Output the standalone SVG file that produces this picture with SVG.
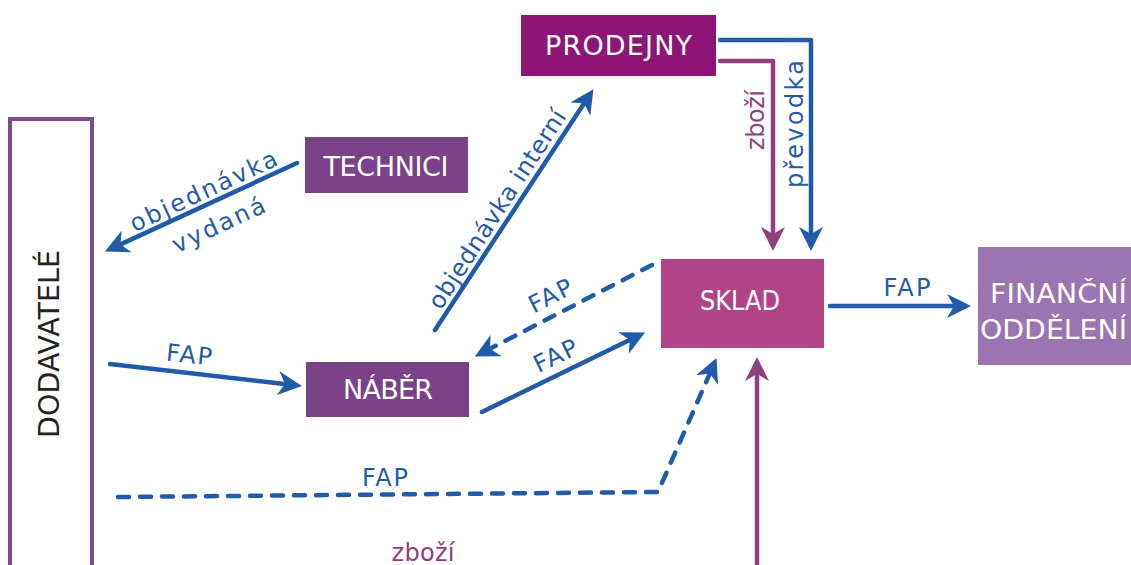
<svg xmlns="http://www.w3.org/2000/svg" width="1131" height="565" viewBox="0 0 1131 565">
  <defs>
    <style>
      text { font-family: "DejaVu Sans", "Noto Sans", sans-serif; }
      .box-label { fill: #ffffff; font-size: 27px; text-anchor: middle; }
      .lbl-blue { fill: #1F5BA8; font-size: 24px; text-anchor: middle; }
      .lbl-mag { fill: #8E3F7C; font-size: 24px; text-anchor: middle; }
      .flow-blue { fill: none; stroke: #1F5BA8; stroke-width: 4.5; stroke-linecap: round; stroke-linejoin: round; }
      .flow-mag { fill: none; stroke: #8E3F7C; stroke-width: 4.5; stroke-linecap: round; stroke-linejoin: round; }
      .dashed { stroke-dasharray: 11 11; }
    </style>
    <marker id="head-blue" viewBox="0 0 24 24" refX="17" refY="12" markerWidth="24" markerHeight="24" markerUnits="userSpaceOnUse" orient="auto">
      <path d="M0,0 L24,12 L0,24 L7,12 z" fill="#1F5BA8"/>
    </marker>
    <marker id="head-mag" viewBox="0 0 24 24" refX="17" refY="12" markerWidth="24" markerHeight="24" markerUnits="userSpaceOnUse" orient="auto">
      <path d="M0,0 L24,12 L0,24 L7,12 z" fill="#8E3F7C"/>
    </marker>
  </defs>

  <rect width="1131" height="565" fill="#ffffff"/>

  <!-- nodes -->
  <g id="dodavatele">
    <rect x="10" y="119" width="82" height="470" fill="none" stroke="#7B4A90" stroke-width="4"/>
    <text transform="translate(59,344) rotate(-90)" font-size="28" fill="#222222" text-anchor="middle" textLength="188" lengthAdjust="spacingAndGlyphs">DODAVATELÉ</text>
  </g>

  <g id="prodejny">
    <rect x="521" y="15" width="195" height="61" fill="#8E1578"/>
    <text class="box-label" x="618.5" y="55" textLength="147" lengthAdjust="spacing">PRODEJNY</text>
  </g>

  <g id="technici">
    <rect x="305" y="137" width="163" height="56" fill="#7A4289"/>
    <text class="box-label" x="386" y="176" textLength="125" lengthAdjust="spacing">TECHNICI</text>
  </g>

  <g id="naber">
    <rect x="306" y="362" width="163" height="55" fill="#7A4289"/>
    <text class="box-label" x="388" y="399" textLength="90" lengthAdjust="spacing">NÁBĚR</text>
  </g>

  <g id="sklad">
    <rect x="661" y="259" width="163" height="89" fill="#B04487"/>
    <text class="box-label" x="740" y="310" textLength="80" lengthAdjust="spacingAndGlyphs">SKLAD</text>
  </g>

  <g id="financni-oddeleni">
    <rect x="978" y="247" width="160" height="118" fill="#9B74B2"/>
    <text class="box-label" x="990" y="303" font-size="28" textLength="137" lengthAdjust="spacingAndGlyphs" style="text-anchor:start">FINANČNÍ</text>
    <text class="box-label" x="980" y="339" font-size="28" textLength="147" lengthAdjust="spacingAndGlyphs" style="text-anchor:start">ODDĚLENÍ</text>
  </g>

  <!-- connectors -->
  <g id="connectors">
    <!-- PRODEJNY -> SKLAD -->
    <path class="flow-blue" d="M720,40 H811 V244" marker-end="url(#head-blue)"/>
    <path class="flow-mag" d="M720,61 H773 V244" marker-end="url(#head-mag)"/>
    <text class="lbl-mag" transform="translate(764,120) rotate(-90)" textLength="60" lengthAdjust="spacing">zboží</text>
    <text class="lbl-blue" transform="translate(803,124) rotate(-90)" textLength="128" lengthAdjust="spacing">převodka</text>

    <!-- TECHNICI -> DODAVATELÉ -->
    <path class="flow-blue" d="M297,163 L111.3,248.6" marker-end="url(#head-blue)"/>
    <text class="lbl-blue" transform="translate(204,192) rotate(-25)" y="7" textLength="160" lengthAdjust="spacing">objednávka</text>
    <text class="lbl-blue" transform="translate(219,226) rotate(-25)" y="7" textLength="100" lengthAdjust="spacing">vydaná</text>

    <!-- NÁBĚR -> PRODEJNY -->
    <path class="flow-blue" d="M435,330 L589.6,95" marker-end="url(#head-blue)"/>
    <text class="lbl-blue" transform="translate(498,210) rotate(-57)" y="7" textLength="232" lengthAdjust="spacing">objednávka interní</text>

    <!-- SKLAD -> NÁBĚR -->
    <path class="flow-blue dashed" d="M652,265 L481,353.4" marker-end="url(#head-blue)"/>
    <text class="lbl-blue" transform="translate(551,297) rotate(-27)" y="7" textLength="46" lengthAdjust="spacing">FAP</text>

    <!-- NÁBĚR -> SKLAD -->
    <path class="flow-blue" d="M482,412 L638.8,335.5" marker-end="url(#head-blue)"/>
    <text class="lbl-blue" transform="translate(556,357) rotate(-26)" y="7" textLength="46" lengthAdjust="spacing">FAP</text>

    <!-- DODAVATELÉ -> NÁBĚR -->
    <path class="flow-blue" d="M110,364 L295,385.2" marker-end="url(#head-blue)"/>
    <text class="lbl-blue" transform="translate(189,356) rotate(6)" y="7" textLength="46" lengthAdjust="spacing">FAP</text>

    <!-- DODAVATELÉ -> SKLAD (dashed) -->
    <path class="flow-blue dashed" d="M118,497 L658,492 L713.8,364.4" marker-end="url(#head-blue)"/>
    <text class="lbl-blue" x="385" y="486" textLength="46" lengthAdjust="spacing">FAP</text>

    <!-- DODAVATELÉ -> SKLAD (goods) -->
    <path class="flow-mag" d="M757,575 V364" marker-end="url(#head-mag)"/>
    <text class="lbl-mag" x="423" y="561" textLength="63" lengthAdjust="spacing">zboží</text>

    <!-- SKLAD -> FINANČNÍ ODDĚLENÍ -->
    <path class="flow-blue" d="M830,306 H964" marker-end="url(#head-blue)"/>
    <text class="lbl-blue" x="907" y="296" textLength="47" lengthAdjust="spacing">FAP</text>
  </g>
</svg>
